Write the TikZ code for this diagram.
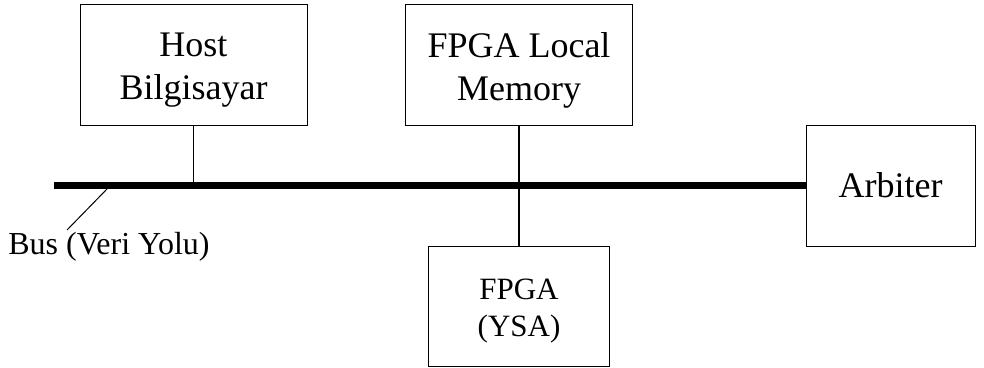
\documentclass[tikz,border=0pt]{standalone}
\usepackage{fontspec}
\setmainfont{Liberation Serif}
\begin{document}
\begin{tikzpicture}[x=1pt,y=-1pt,
  box/.style={draw, line width=0.8pt, inner sep=0pt, outer sep=0pt},
  bigtext/.style={font=\fontsize{36}{43}\selectfont, align=center, inner sep=0pt},
  smalltext/.style={font=\fontsize{31}{37}\selectfont, align=center, inner sep=0pt},
  link/.style={line width=1.3pt},
  busline/.style={line width=7pt}]
\useasboundingbox (0,0) rectangle (984,367);

% units on the bus
\node[box, minimum width=227pt, minimum height=121pt] (host) at (193.5,64.5) {};
\node[box, minimum width=227pt, minimum height=121pt] (mem) at (519,64.5) {};
\node[box, minimum width=169pt, minimum height=121pt] (arb) at (890.5,185.5) {};
\node[box, minimum width=181pt, minimum height=120pt] (fpga) at (519,306) {};

% their captions
\node[bigtext] (hosttxt) at ([yshift=-6pt]host.center) {Host\\Bilgisayar};
\node[bigtext] (memtxt) at ([yshift=-6pt]mem.center) {FPGA Local\\Memory};
\node[bigtext] (arbtxt) at (arb.center) {Arbiter};
\node[smalltext] (fpgatxt) at ([yshift=-5pt]fpga.center) {FPGA\\(YSA)};

% the bus itself
\coordinate (busL) at (54,185.5);
\draw[busline] (busL) -- (arb.west);

% drops from the units to the bus
\draw[link] (host.south) -- (host.south |- busL);
\draw[link] (mem.south) -- (fpga.north);

% bus label with its pointer
\node[font=\fontsize{32}{38}\selectfont, inner sep=0pt] (buslbl) at (109,247) {Bus (Veri Yolu)};
\coordinate (tap) at (107,189);
\coordinate (tail) at (67,230);
\draw[line width=1pt] (tap) -- (tail);
\end{tikzpicture}
\end{document}
